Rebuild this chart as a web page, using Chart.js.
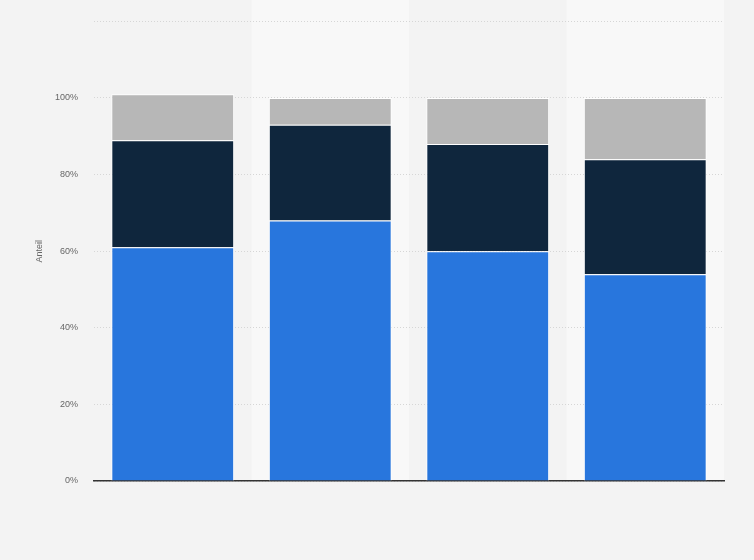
<!DOCTYPE html>
<html>
<head>
<meta charset="utf-8">
<script src="https://cdn.jsdelivr.net/npm/chart.js@4"></script>
<style>
  html, body { margin: 0; padding: 0; background: #f3f3f3; }
  #wrap { width: 754px; height: 560px; position: relative; }
</style>
</head>
<body>
<div id="wrap"><canvas id="myChart"></canvas></div>
<script>
const categories = ["1", "2", "3", "4"];
const seriesA = [61, 68, 60, 54];
const seriesB = [28, 25, 28, 30];
const seriesC = [12, 7, 12, 16];
const yTicks = [0, 20, 40, 60, 80, 100, 120];

// lighter background band behind every second column
const bandPlugin = {
  id: "bands",
  beforeDraw(chart) {
    const ctx = chart.ctx;
    const x = chart.scales.x;
    const area = chart.chartArea;
    ctx.save();
    ctx.fillStyle = "#f8f8f8";
    for (let i = 1; i < categories.length; i += 2) {
      const left = x.getPixelForValue(i) - (x.getPixelForValue(1) - x.getPixelForValue(0)) / 2;
      const right = x.getPixelForValue(i) + (x.getPixelForValue(1) - x.getPixelForValue(0)) / 2;
      ctx.fillRect(left, 0, right - left, area.bottom);
    }
    ctx.restore();
  },
};

const ctx = document.getElementById("myChart").getContext("2d");
new Chart(ctx, {
  type: "bar",
  data: {
    labels: categories,
    datasets: [
      { data: seriesA, backgroundColor: "#2876dd" },
      { data: seriesB, backgroundColor: "#0f263d" },
      { data: seriesC, backgroundColor: "#b7b7b7" },
    ].map((d) => ({
      ...d,
      borderColor: "#ffffff",
      borderWidth: 1,
      categoryPercentage: 1,
      barPercentage: 0.78,
    })),
  },
  options: {
    responsive: true,
    maintainAspectRatio: false,
    animation: false,
    layout: { padding: { left: 0, right: 30, top: 20, bottom: 79 } },
    plugins: { legend: { display: false }, tooltip: { enabled: false } },
    scales: {
      x: {
        stacked: true,
        grid: { display: false },
        ticks: { display: false },
        border: { display: true, color: "#333333", width: 1.5 },
        afterFit(scale) { scale.height = 0; },
      },
      y: {
        stacked: true,
        min: 0,
        max: 120,
        afterBuildTicks(scale) { scale.ticks = yTicks.map((v) => ({ value: v })); },
        afterFit(scale) { scale.width = 94; },
        ticks: {
          padding: 16,
          color: "#666666",
          font: { family: "Arial, 'Liberation Sans'", size: 9 },
          callback: (v) => (v === 120 ? "" : v + "%"),
        },
        grid: { color: "#d6d6d6", drawTicks: false },
        border: { display: false, dash: [1, 2] },
        title: {
          display: true,
          text: "Anteil",
          color: "#666666",
          font: { family: "Arial, 'Liberation Sans'", size: 9 },
          padding: { top: 34, bottom: 0 },
        },
      },
    },
  },
  plugins: [bandPlugin],
});
</script>
</body>
</html>
